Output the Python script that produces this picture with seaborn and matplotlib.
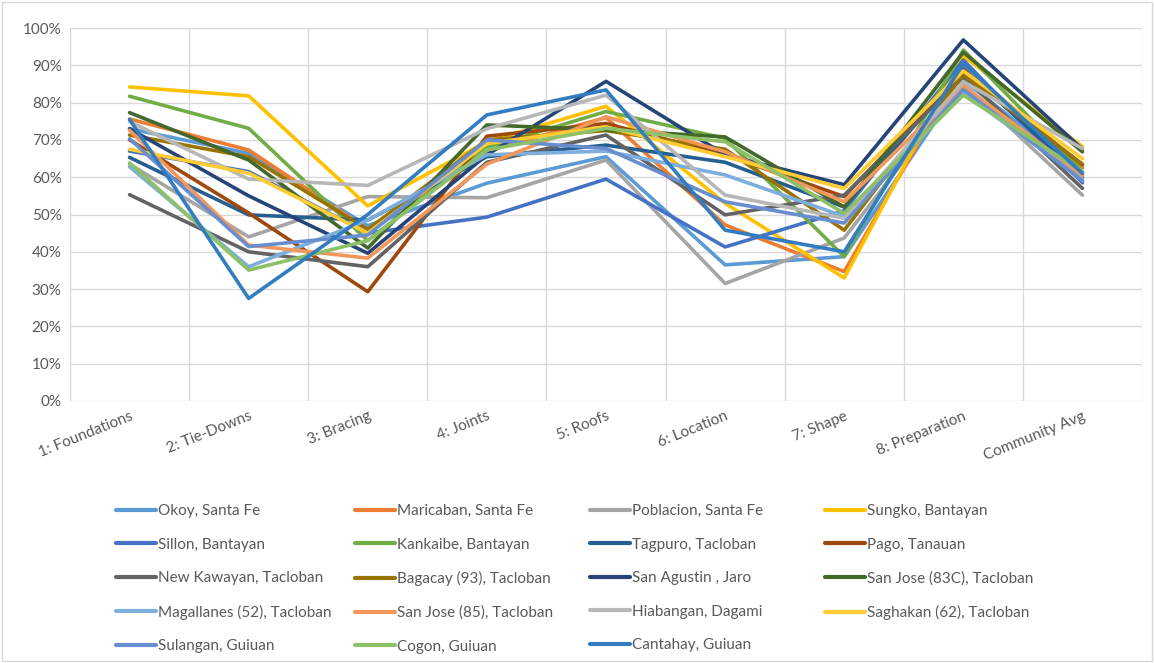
import numpy as np
import pandas as pd
import seaborn as sns
import matplotlib.pyplot as plt
from matplotlib.lines import Line2D
from matplotlib.patches import Rectangle
from matplotlib.ticker import FuncFormatter

categories = ["1: Foundations", "2: Tie-Downs", "3: Bracing", "4: Joints", "5: Roofs",
              "6: Location", "7: Shape", "8: Preparation", "Community Avg"]

okoy        = [73.0, 66.4, 47.0, 58.4, 65.5, 36.5, 38.7, 86.0, 61.0]
maricaban   = [75.6, 67.3, 46.0, 67.0, 76.0, 47.2, 34.7, 90.0, 62.5]
poblacion   = [63.5, 44.0, 54.8, 54.5, 64.6, 31.5, 43.7, 85.0, 55.2]
sungko      = [84.2, 81.8, 52.3, 69.5, 79.0, 53.0, 33.0, 92.5, 68.2]
sillon      = [67.0, 61.5, 45.0, 49.3, 59.5, 41.3, 51.0, 91.4, 58.5]
kankaibe    = [81.7, 73.1, 43.0, 68.0, 77.6, 70.4, 38.7, 94.1, 61.5]
tagpuro     = [65.3, 49.9, 48.5, 65.5, 68.6, 64.0, 52.0, 89.0, 60.0]
pago        = [70.0, 50.4, 29.3, 71.0, 74.4, 66.0, 54.8, 88.5, 63.3]
new_kawayan = [55.3, 40.0, 36.0, 64.0, 71.3, 49.9, 55.2, 87.0, 57.0]
bagacay     = [71.3, 65.5, 46.0, 70.0, 72.5, 67.5, 45.8, 87.5, 63.5]
san_agustin = [73.0, 55.0, 39.6, 66.0, 85.7, 66.0, 58.0, 96.8, 67.5]
san_jose_83c = [77.3, 64.6, 41.0, 74.0, 72.7, 70.8, 52.0, 93.5, 66.8]
magallanes  = [62.8, 36.0, 48.5, 66.0, 67.0, 60.6, 49.5, 82.5, 59.5]
san_jose_85 = [72.6, 41.8, 38.3, 63.5, 76.2, 66.8, 53.4, 84.5, 60.5]
hiabangan   = [74.9, 59.5, 57.8, 73.0, 82.0, 55.2, 49.0, 85.6, 67.7]
saghakan    = [67.5, 61.1, 45.0, 69.0, 73.5, 65.5, 57.0, 88.5, 65.0]
sulangan    = [70.3, 41.4, 44.5, 70.0, 67.7, 53.4, 47.7, 83.5, 59.0]
cogon       = [63.8, 35.1, 43.0, 67.3, 73.1, 69.5, 50.3, 82.0, 61.5]
cantahay    = [75.5, 27.5, 50.0, 76.7, 83.4, 45.8, 40.0, 90.5, 61.0]

series_names = ["Okoy, Santa Fe", "Maricaban, Santa Fe", "Poblacion, Santa Fe", "Sungko, Bantayan",
                "Sillon, Bantayan", "Kankaibe, Bantayan", "Tagpuro, Tacloban", "Pago, Tanauan",
                "New Kawayan, Tacloban", "Bagacay (93), Tacloban", "San Agustin , Jaro",
                "San Jose (83C), Tacloban", "Magallanes (52), Tacloban", "San Jose (85), Tacloban",
                "Hiabangan, Dagami", "Saghakan (62), Tacloban", "Sulangan, Guiuan",
                "Cogon, Guiuan", "Cantahay, Guiuan"]
series_values = [okoy, maricaban, poblacion, sungko, sillon, kankaibe, tagpuro, pago,
                 new_kawayan, bagacay, san_agustin, san_jose_83c, magallanes, san_jose_85,
                 hiabangan, saghakan, sulangan, cogon, cantahay]
colors = ["#5B9BD5", "#ED7D31", "#A5A5A5", "#FFC000", "#4472C4", "#70AD47", "#255E91",
          "#9E480E", "#636363", "#997300", "#264478", "#43682B", "#7CAFDD", "#F1975A",
          "#B7B7B7", "#FFCD33", "#698ED0", "#8CC168", "#327DC2"]
y_ticks = list(range(0, 101, 10))

rows = []
for name, vals in zip(series_names, series_values):
    for c, v in zip(categories, vals):
        rows.append({"category": c, "value": v, "community": name})
df = pd.DataFrame(rows)

sns.set_theme(style="white")
plt.rcParams["font.family"] = ["Lato", "DejaVu Sans"]
plt.rcParams["lines.solid_joinstyle"] = "round"
plt.rcParams["lines.solid_capstyle"] = "round"

fig = plt.figure(figsize=(11.54, 6.63), dpi=100)
ax = fig.add_axes([70 / 1154, 1 - 401 / 663, 1072 / 1154, 373 / 663])

palette = dict(zip(series_names, colors))
sns.lineplot(data=df, x="category", y="value", hue="community", hue_order=series_names,
             palette=palette, sort=False, estimator=None, linewidth=2.6, legend=False, ax=ax)

ax.set_xlim(-0.5, len(categories) - 0.5)
ax.set_ylim(0, 100)
ax.set_yticks(y_ticks)
ax.yaxis.set_major_formatter(FuncFormatter(lambda v, p: f"{int(v)}%"))
ax.set_xticks(range(len(categories)))
ax.set_xticklabels(categories, rotation=22, ha="right", rotation_mode="anchor")
ax.set_xticks(np.arange(-0.5, len(categories), 1), minor=True)
ax.tick_params(axis="both", which="both", length=0, labelsize=11, colors="#595959")
ax.tick_params(axis="x", pad=6)
ax.tick_params(axis="y", pad=6)
ax.grid(False)
ax.yaxis.grid(True, color="#D9D9D9", linewidth=1.0)
ax.xaxis.grid(True, which="minor", color="#D9D9D9", linewidth=1.0)
for s in ax.spines.values():
    s.set_visible(False)
ax.set_axisbelow(True)
ax.set_xlabel("")
ax.set_ylabel("")

# legend: four columns, filled row-wise
col_x = [116, 355, 590, 825]
row_top = 504
handles = [Line2D([0], [0], color=c, linewidth=3.0, solid_capstyle="round") for c in colors]
for ci in range(4):
    idx = list(range(ci, len(series_names), 4))
    fig.legend([handles[i] for i in idx], [series_names[i] for i in idx],
               loc="upper left", bbox_to_anchor=(col_x[ci] / 1154, 1 - row_top / 663),
               frameon=False, fontsize=11, handlelength=2.6, handletextpad=0.15,
               labelspacing=1.28, borderaxespad=0, borderpad=0, labelcolor="#595959")

fig.patches.append(Rectangle((0.002, 0.003), 0.996, 0.994, transform=fig.transFigure,
                             fill=False, edgecolor="#D9D9D9", linewidth=1.0))

fig.savefig("out.png", dpi=100, facecolor="white")
